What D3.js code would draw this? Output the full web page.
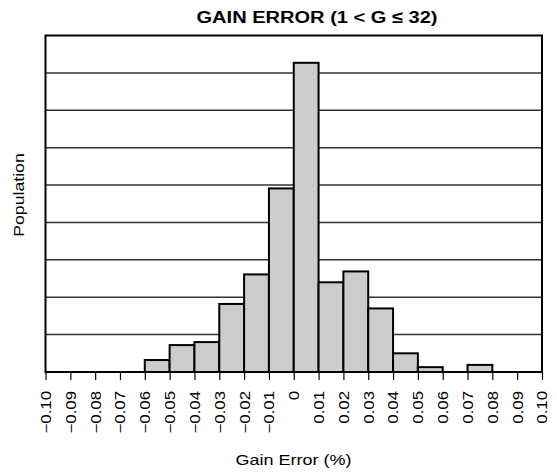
<!DOCTYPE html>
<html><head><meta charset="utf-8">
<script src="https://cdn.jsdelivr.net/npm/d3@7"></script>
<style>body{margin:0;background:#fff}svg{display:block}</style>
</head><body>
<script>
const binStarts = [-0.06,-0.05,-0.04,-0.03,-0.02,-0.01,0,0.01,0.02,0.03,0.04,0.05,0.06,0.07];
const population = [0.32,0.72,0.8,1.82,2.61,4.91,8.27,2.40,2.69,1.70,0.5,0.13,0,0.19];
const tickValues = [-0.10,-0.09,-0.08,-0.07,-0.06,-0.05,-0.04,-0.03,-0.02,-0.01,0,0.01,0.02,0.03,0.04,0.05,0.06,0.07,0.08,0.09,0.10];
const gridValues = [1,2,3,4,5,6,7,8];
const binWidth = 0.01;

const W=557,H=472;
const m={l:45.5,r:15,t:35.5,b:100};
const svg=d3.select("body").append("svg").attr("width",W).attr("height",H);
const x=d3.scaleLinear().domain([-0.10,0.10]).range([m.l,W-m.r]);
const y=d3.scaleLinear().domain([0,9]).range([H-m.b,m.t]);
const font="Liberation Sans, Arial, sans-serif";
const SX=1.2;

svg.append("g").selectAll("line").data(gridValues).join("line")
 .attr("x1",x(-0.10)).attr("x2",x(0.10)).attr("y1",d=>y(d)).attr("y2",d=>y(d))
 .attr("stroke","#333").attr("stroke-width",1.5);

svg.append("g").selectAll("rect").data(binStarts.map((s,i)=>({s,v:population[i]})).filter(d=>d.v>0)).join("rect")
 .attr("x",d=>x(d.s)).attr("width",d=>x(d.s+binWidth)-x(d.s))
 .attr("y",d=>y(d.v)).attr("height",d=>y(0)-y(d.v))
 .attr("fill","#cccccc").attr("stroke","#000").attr("stroke-width",2);

svg.append("rect").attr("x",x(-0.10)).attr("y",y(9)).attr("width",x(0.10)-x(-0.10)).attr("height",y(0)-y(9))
 .attr("fill","none").attr("stroke","#000").attr("stroke-width",2);

const fmt=d=>{ if(Math.abs(d)<1e-9) return "0"; const s=Math.abs(d).toFixed(2); return (d<0?"\u2212":"")+s; };
const ax=svg.append("g").attr("transform",`translate(0,${y(0)})`)
 .call(d3.axisBottom(x).tickValues(tickValues).tickSize(8).tickSizeOuter(0).tickFormat(fmt));
ax.select(".domain").remove();
ax.selectAll(".tick line").attr("stroke","#000").attr("stroke-width",1.2);
ax.selectAll(".tick text").attr("transform",`rotate(-90) scale(${SX},1)`).attr("text-anchor","end")
 .attr("x",-19/SX).attr("y",0).attr("dy","0.35em").attr("font-size",14).attr("font-family",font).attr("fill","#000");

svg.append("text").attr("transform",`translate(317,23) scale(1.18,1)`).attr("text-anchor","middle").attr("font-family",font)
 .attr("font-weight","bold").attr("font-size",17).text("GAIN ERROR (1 < G \u2264 32)");
svg.append("text").attr("transform",`translate(293.5,465) scale(${SX},1)`).attr("text-anchor","middle").attr("font-family",font)
 .attr("font-size",15).text("Gain Error (%)");
svg.append("text").attr("transform",`translate(24,195) rotate(-90) scale(1.18,1)`).attr("text-anchor","middle")
 .attr("font-family",font).attr("font-size",15).text("Population");
</script>
</body></html>
